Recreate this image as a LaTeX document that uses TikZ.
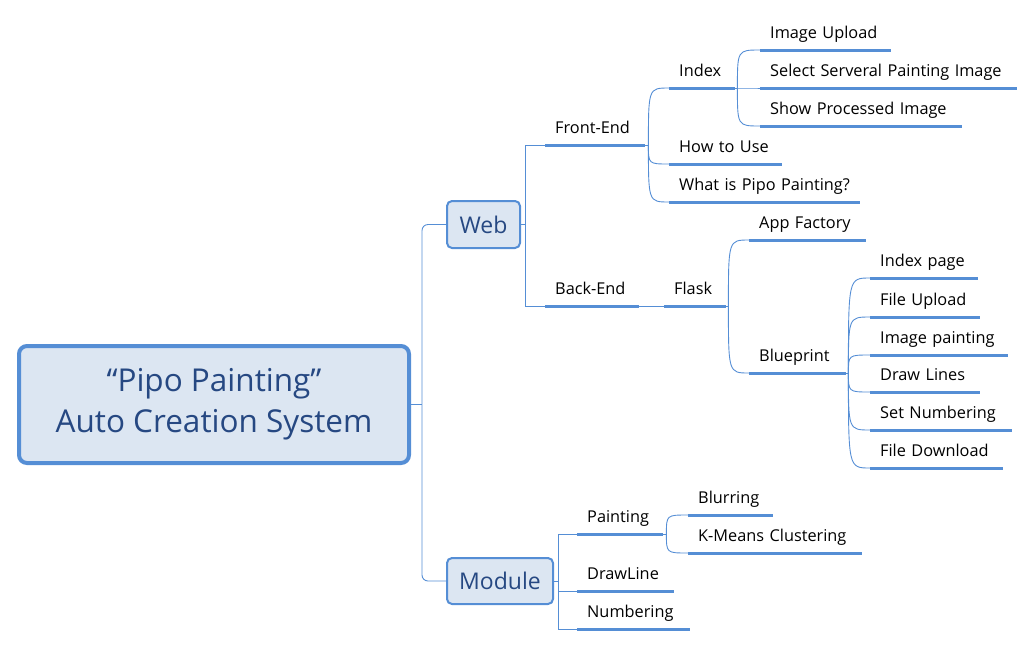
\documentclass[tikz,border=0pt]{standalone}
\usepackage{fontspec}
\setmainfont{Open Sans}
\definecolor{mapline}{RGB}{85,142,213}
\definecolor{mapfill}{RGB}{220,230,242}
\definecolor{maptext}{RGB}{38,72,130}
\tikzset{
  conn/.style={draw=mapline, line width=0.9pt},
  uline/.style={draw=mapline, line width=3pt},
  topic/.style={anchor=south west, inner xsep=10pt, inner ysep=0pt,
    text width=#1, align=left, text height=12pt, text depth=11pt,
    font=\fontsize{16.3}{19}\selectfont,
    append after command={(\tikzlastnode.south west) edge[uline] (\tikzlastnode.south east)}},
  mainbox/.style={draw=mapline, fill=mapfill, rounded corners=5pt, line width=2pt,
    text=maptext, font=\fontsize{23}{28}\selectfont, inner sep=0pt},
}

\begin{document}
\begin{tikzpicture}[x=1pt,y=-1pt]
\useasboundingbox (0,0) rectangle (1035,646);
% central topic
\node[mainbox, line width=4pt, rounded corners=8pt, minimum width=390pt,
  minimum height=117pt, align=center, font=\fontsize{31.5}{41}\selectfont]
  (root) at (214,404.5) {“Pipo Painting”\\Auto Creation System};
\draw[conn] (root.east) -- ++(11,0) coordinate (rj);
\node[mainbox, minimum width=73pt, minimum height=47pt] (web) at (483.5,224.5) {Web};
\node[mainbox, minimum width=106pt, minimum height=46pt] (module) at (500,581) {Module};
\draw[conn, rounded corners=6pt] (rj) |- (web.west);
\draw[conn, rounded corners=6pt] (rj) |- (module.west);

% Web
\node[topic=80pt] (front) at (545,145) {Front-End};
\node[topic=74pt] (back) at (545,306) {Back-End};
\node[topic=42pt] (flask) at (664,306) {Flask};
\draw[conn] (web.east) -- ++(4,0) coordinate (wj);
\draw[conn] (wj) |- (front.south west);
\draw[conn] (wj) |- (back.south west);
\draw[conn] (back.south east) -- (flask.south west);

% Front-End
\node[topic=46pt] (index) at (669,88) {Index};
\node[topic=93pt] (howto) at (669,164) {How to Use};
\node[topic=171pt] (whatis) at (669,202) {What is Pipo Painting?};
\coordinate (fj) at ([xshift=3pt]front.south east);
\draw[conn] (front.south east) -- (fj);
\foreach \n in {index,howto,whatis}
  \draw[conn] (fj) .. controls (fj |- \n.south west) .. (\n.south west);

% Index
\node[topic=111pt] (upload) at (760,50) {Image Upload};
\node[topic=237pt] (select) at (760,88) {Select Serveral Painting Image};
\node[topic=182pt] (show) at (760,126) {Show Processed Image};
\coordinate (ij) at ([xshift=2pt]index.south east);
\draw[conn] (index.south east) -- (ij);
\foreach \n in {upload,select,show}
  \draw[conn] (ij) .. controls (ij |- \n.south west) .. (\n.south west);

% Flask
\node[topic=97pt] (factory) at (749,240) {App Factory};
\node[topic=77pt] (blue) at (749,373) {Blueprint};
\coordinate (kj) at ([xshift=2pt]flask.south east);
\draw[conn] (flask.south east) -- (kj);
\foreach \n in {factory,blue}
  \draw[conn] (kj) .. controls (kj |- \n.south west) .. (\n.south west);

% Blueprint
\node[topic=88pt] (idxpage) at (870,278) {Index page};
\node[topic=90pt] (fileup) at (870,317) {File Upload};
\node[topic=118pt] (imgpaint) at (870,355) {Image painting};
\node[topic=90pt] (drawl) at (870,392) {Draw Lines};
\node[topic=122pt] (setnum) at (870,430) {Set Numbering};
\node[topic=113pt] (filedown) at (870,468) {File Download};
\coordinate (bj) at ([xshift=2pt]blue.south east);
\draw[conn] (blue.south east) -- (bj);
\foreach \n in {idxpage,fileup,imgpaint,drawl,setnum,filedown}
  \draw[conn] (bj) .. controls (bj |- \n.south west) .. (\n.south west);

% Module
\node[topic=66pt] (paint) at (577,534) {Painting};
\node[topic=77pt] (drawline) at (577,591) {DrawLine};
\node[topic=93pt] (number) at (577,629) {Numbering};
\draw[conn] (module.east) -- ++(4,0) coordinate (mj);
\foreach \n in {paint,drawline,number}
  \draw[conn] (mj) |- (\n.south west);

% Painting
\node[topic=65pt] (blur) at (688,515) {Blurring};
\node[topic=154pt] (kmeans) at (688,553) {K-Means Clustering};
\coordinate (pj) at ([xshift=3pt]paint.south east);
\draw[conn] (paint.south east) -- (pj);
\foreach \n in {blur,kmeans}
  \draw[conn] (pj) .. controls (pj |- \n.south west) .. (\n.south west);
\end{tikzpicture}
\end{document}
